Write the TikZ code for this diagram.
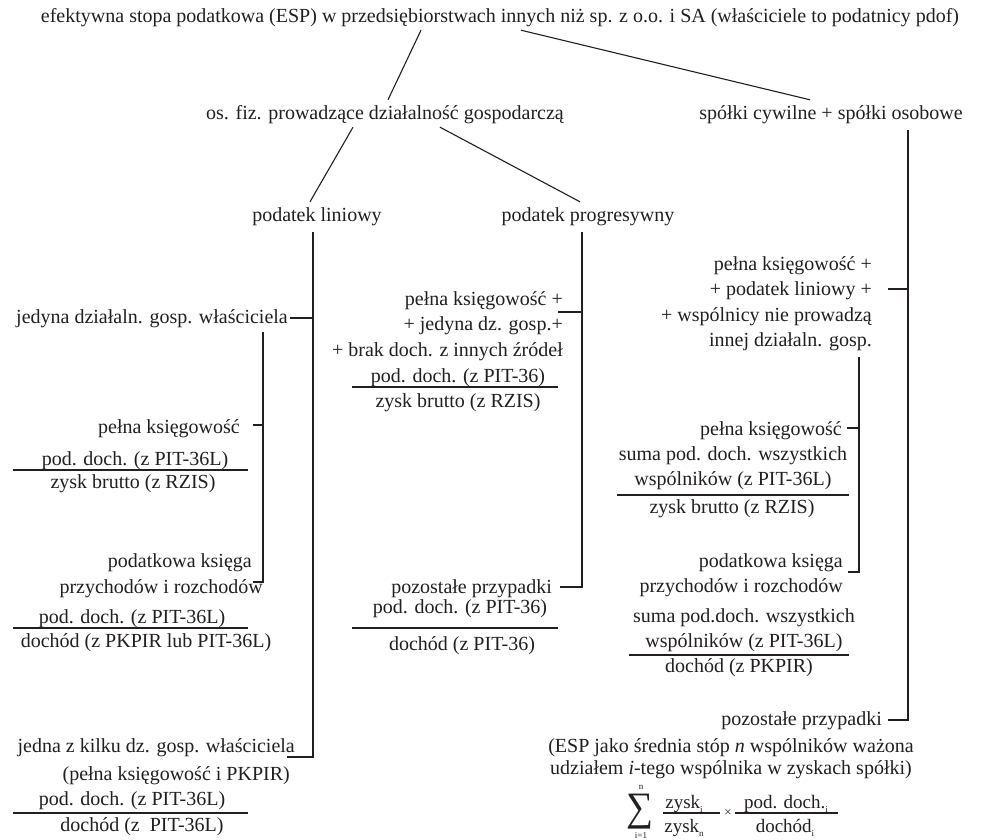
\documentclass[tikz,border=0pt]{standalone}
\usepackage{fontspec}
\setmainfont{Liberation Serif}
\usepackage{graphicx}
\usetikzlibrary{calc}
\definecolor{ink}{RGB}{35,31,32}
\newcommand\fsz{\fontsize{20}{25.5}\selectfont}
\newcommand\mysub[1]{\raisebox{-4pt}{\fontsize{9}{9}\selectfont #1}}
\begin{document}
\begin{tikzpicture}[x=1pt,y=-1pt,
  lbl/.style={inner sep=0pt,text height=14pt,text depth=4pt,font=\fsz,text=ink},
  ml/.style={inner sep=0pt,font=\fsz,text=ink},
  fm/.style={inner sep=0pt,text height=13pt,text depth=4pt,font=\fontsize{19}{19}\selectfont,text=ink},
  subl/.style={inner sep=0pt,font=\fontsize{9}{9}\selectfont,text=ink},
  con/.style={draw=ink,line width=1.1pt},
  bar/.style={draw=ink,line width=1.8pt},
  fbar/.style={draw=ink,line width=1.3pt}]
\fill[white] (0,0) rectangle (985,840);
\useasboundingbox (0,0) rectangle (985,840);

% top levels
\node[lbl] (top) at (500,18) {efektywna stopa podatkowa (ESP) w przedsiębiorstwach innych niż sp. z o.o. i SA (właściciele to podatnicy pdof)};
\node[lbl] (osfiz) at (385,115) {os. fiz. prowadzące działalność gospodarczą};
\node[lbl] (spolki) at (831,115) {spółki cywilne + spółki osobowe};
\node[lbl] (lin) at (317,216) {podatek liniowy};
\node[lbl] (prog) at (588,216) {podatek progresywny};

\draw[con] ($(top.south)+(-79,3)$) -- ($(osfiz.north)+(3,-6)$);
\draw[con] ($(top.south)+(21,3)$) -- ($(spolki.north)+(-21,-6)$);
\draw[con] ($(osfiz.south)+(-32,3)$) -- ($(lin.north)+(-7,-5)$);
\draw[con] ($(osfiz.south)+(55,3)$) -- ($(prog.north)+(-8,-5)$);

\coordinate (t1) at ($(lin.south)+(-4,7)$);
\coordinate (t3) at ($(prog.south)+(-6,7)$);
\coordinate (t4) at ($(spolki.south)+(77,6)$);

% ---------- left column ----------
\node[lbl,anchor=east] (jed) at (288,318) {jedyna działaln. gosp. właściciela};
\draw[con] ($(jed.east)+(2,0)$) -- (jed.east -| t1);
\coordinate (t2) at ($(jed.south east)+(-25,5)$);

\node[lbl,anchor=east] (pk1) at (240,428) {pełna księgowość};
\draw[con] ($(pk1.east)+(13,-3)$) -- ($(pk1.east)+(23,-3)$);
\node[lbl] (f1n) at (135,460) {pod. doch. (z PIT-36L)};
\draw[bar] (13,470) -- (248,470);
\node[lbl] (f1d) at (133,483) {zysk brutto (z RZIS)};

\node[lbl,anchor=east] (pkpa) at (252,562) {podatkowa księga};
\node[lbl,anchor=east] (pkpb) at (263,588) {przychodów i rozchodów};
\draw[con] (t2) |- ($(pkpa.east)+(1,20)$);
\node[lbl] (f2n) at (132,618) {pod. doch. (z PIT-36L)};
\draw[bar] (13,628) -- (248,628);
\node[lbl] (f2d) at (146,642) {dochód (z PKPIR lub PIT-36L)};

\node[lbl,anchor=east] (jk) at (295,747) {jedna z kilku dz. gosp. właściciela};
\node[lbl,anchor=east] (jk2) at (290,775) {(pełna księgowość i PKPIR)};
\draw[con] (t1) |- ($(jk.east)+(-8,10)$);
\node[lbl] (f3n) at (132,800) {pod. doch. (z PIT-36L)};
\draw[bar] (13,813) -- (248,813);
\node[lbl] (f3d) at (142,826) {dochód (z~~PIT-36L)};

% ---------- middle column ----------
\node[ml,anchor=north east,align=right] (m1) at (563,291) {pełna księgowość +\\+ jedyna dz. gosp.+\\+ brak doch. z innych źródeł};
\draw[con] ($(m1.north east)+(-5,21)$) -- ($(m1.north east)+(19,21)$);
\node[lbl] (m1n) at (458,377) {pod. doch. (z PIT-36)};
\draw[bar] (352,387) -- (558,387);
\node[lbl] (m1d) at (458,402) {zysk brutto (z RZIS)};

\node[lbl,anchor=east] (m2) at (552,588) {pozostałe przypadki};
\draw[con] (t3) |- ($(m2.east)+(8,-1)$);
\node[lbl] (m2n) at (460,608) {pod. doch. (z PIT-36)};
\draw[bar] (352,628) -- (558,628);
\node[lbl] (m2d) at (462,645) {dochód (z PIT-36)};

% ---------- right column ----------
\node[ml,anchor=north east,align=right] (r1) at (872,256) {pełna księgowość +\\+ podatek liniowy +\\+ wspólnicy nie prowadzą\\innej działaln. gosp.};
\draw[con] ($(r1.north east)+(16,33)$) -- ($(r1.north east)+(36,33)$);
\coordinate (t5) at ($(r1.south east)+(-13,6)$);

\node[lbl,anchor=east] (r2) at (842,430) {pełna księgowość};
\draw[con] ($(r2.east)+(5,-2)$) -- ($(r2.east)+(17,-2)$);
\node[ml,anchor=north,align=center] (r2n) at (733,446) {suma pod. doch. wszystkich\\wspólników (z PIT-36L)};
\draw[bar] (617,495) -- (849,495);
\node[lbl] (r2d) at (732,508) {zysk brutto (z RZIS)};

\node[ml,anchor=north east,align=right] (r3) at (843,553) {podatkowa księga\\przychodów i rozchodów};
\draw[con] (t5) |- ($(r3.north east)+(5,19)$);
\node[ml,anchor=north,align=center] (r3n) at (744,608) {suma pod.doch. wszystkich\\wspólników (z PIT-36L)};
\draw[bar] (629,655) -- (849,655);
\node[lbl] (r3d) at (739,667) {dochód (z PKPIR)};

\node[lbl,anchor=east] (r4) at (882,720) {pozostałe przypadki};
\draw[con] (t4) |- ($(r4.east)+(6,0)$);
\node[ml,anchor=north,align=center,font=\fontsize{20}{22.5}\selectfont] (r5) at (731,738) {(ESP jako średnia stóp \textit{n} wspólników ważona\\udziałem \textit{i}-tego wspólnika w zyskach spółki)};

% formula
\node[inner sep=0pt,text=ink] (sig) at (640,812) {\resizebox*{27pt}{35pt}{∑}};
\node[subl] (sn) at (641,787) {n};
\node[subl] (si) at (641,836) {i=1};
\node[fm] (za) at (684,804) {zysk\mysub{i}};
\draw[fbar] (663,813) -- (720,813);
\node[fm] (zb) at (684,828) {zysk\mysub{n}};
\node[inner sep=0pt,text=ink,font=\fontsize{13}{13}\selectfont] (times) at (728,813) {×};
\node[fm] (pa) at (786,804) {pod. doch.\mysub{i}};
\draw[fbar] (735,813) -- (838,813);
\node[fm] (pb) at (785,828) {dochód\mysub{i}};
\end{tikzpicture}
\end{document}
